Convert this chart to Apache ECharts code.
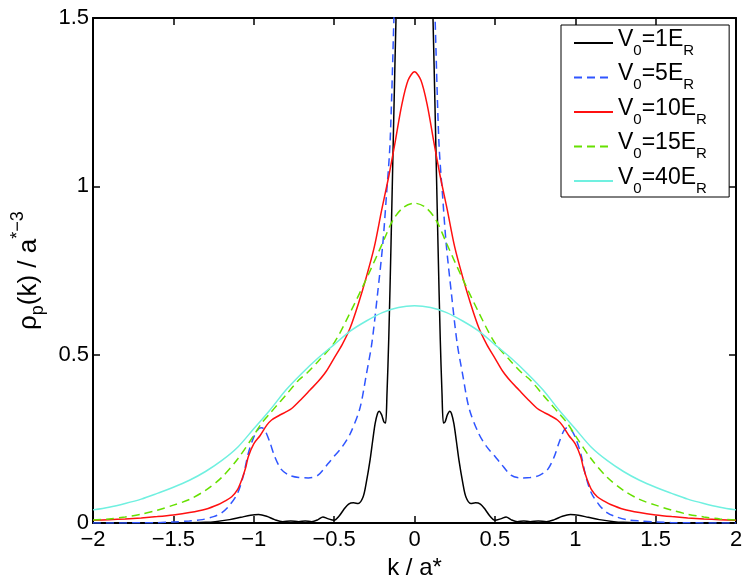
<!DOCTYPE html>
<html><head><meta charset="utf-8">
<script src="https://cdn.jsdelivr.net/npm/echarts@6/dist/echarts.min.js"></script>
<style>html,body{margin:0;padding:0;background:#fff}#c{width:747px;height:585px}</style>
</head><body><div id="c"></div>
<script>
const xTicks = [-2, -1.5, -1, -0.5, 0, 0.5, 1, 1.5, 2];
const xTickLabels = ['\u22122', '\u22121.5', '\u22121', '\u22120.5', '0', '0.5', '1', '1.5', '2'];
const yTicks = [0, 0.5, 1, 1.5];
const yTickLabels = ['0', '0.5', '1', '1.5'];

const seriesNames = ['V0=1ER', 'V0=5ER', 'V0=10ER', 'V0=15ER', 'V0=40ER'];
const legendNumbers = ['1', '5', '10', '15', '40'];

// V0 = 1 ER (black)
const blackK = [-2,-1.6,-1.4,-1.3,-1.24,-1.15,-1.08,-1.02,-0.97,-0.92,-0.87,-0.82,-0.77,-0.72,-0.68,-0.64,-0.6,-0.57,-0.54,-0.5,-0.47,-0.44,-0.41,-0.38,-0.35,-0.32,-0.3,-0.277,-0.26,-0.245,-0.23,-0.22,-0.205,-0.19,-0.18,-0.171,-0.16,-0.146,-0.128,-0.115,-0.09,-0.06,-0.03,0,
  0.03,0.06,0.09,0.115,0.128,0.146,0.16,0.171,0.18,0.19,0.205,0.22,0.23,0.245,0.26,0.277,0.3,0.32,0.35,0.38,0.41,0.44,0.47,0.5,0.54,0.57,0.6,0.64,0.68,0.72,0.77,0.82,0.87,0.92,0.97,1.02,1.08,1.15,1.24,1.3,1.4,1.6,2];
const blackV = [0,0,0.001,0.002,0.004,0.01,0.017,0.023,0.025,0.02,0.01,0.004,0.006,0.004,0.006,0.004,0.01,0.018,0.013,0.008,0.02,0.04,0.056,0.06,0.058,0.077,0.12,0.185,0.245,0.295,0.325,0.332,0.322,0.3,0.297,0.386,0.55,0.83,1.227,1.5,1.95,2.45,2.8,2.9,
  2.8,2.45,1.95,1.5,1.227,0.83,0.55,0.386,0.297,0.3,0.322,0.332,0.325,0.295,0.245,0.185,0.12,0.077,0.058,0.06,0.056,0.04,0.02,0.008,0.013,0.018,0.01,0.004,0.006,0.004,0.006,0.004,0.01,0.02,0.025,0.023,0.017,0.01,0.004,0.002,0.001,0,0];

// V0 = 5 ER (blue dashed)
const blueK = [-2,-1.7,-1.6,-1.5,-1.4,-1.32,-1.25,-1.2,-1.15,-1.1,-1.065,-1.035,-1.0,-0.97,-0.95,-0.93,-0.9,-0.87,-0.83,-0.78,-0.72,-0.66,-0.6,-0.54,-0.5,-0.45,-0.4,-0.34,-0.3,-0.265,-0.23,-0.197,-0.175,-0.152,-0.128,-0.1,-0.06,-0.03,0,
  0.03,0.06,0.1,0.128,0.152,0.175,0.197,0.23,0.265,0.3,0.34,0.4,0.45,0.5,0.54,0.6,0.66,0.72,0.78,0.83,0.87,0.9,0.93,0.95,0.97,1.0,1.035,1.065,1.1,1.15,1.2,1.25,1.32,1.4,1.5,1.6,1.7,2];
const blueV = [0,0.0005,0.001,0.003,0.006,0.01,0.019,0.03,0.053,0.089,0.14,0.205,0.255,0.28,0.283,0.275,0.24,0.198,0.16,0.142,0.135,0.134,0.142,0.175,0.198,0.226,0.265,0.34,0.44,0.535,0.68,0.83,0.97,1.13,1.5,1.95,2.4,2.6,2.7,
  2.6,2.4,1.95,1.5,1.13,0.97,0.83,0.68,0.535,0.44,0.34,0.265,0.226,0.198,0.175,0.142,0.134,0.135,0.142,0.16,0.198,0.24,0.275,0.283,0.28,0.255,0.205,0.14,0.089,0.053,0.03,0.019,0.01,0.006,0.003,0.001,0.0005,0];

// V0 = 10 ER (red)
const redK = [-2,-1.9,-1.8,-1.7,-1.6,-1.5,-1.4,-1.3,-1.22,-1.18,-1.137,-1.1,-1.075,-1.05,-1.034,-1.0,-0.96,-0.92,-0.889,-0.84,-0.8,-0.764,-0.7,-0.65,-0.6,-0.55,-0.5,-0.45,-0.4,-0.35,-0.3,-0.25,-0.204,-0.16,-0.121,-0.08,-0.04,0,
  0.04,0.08,0.121,0.16,0.204,0.25,0.3,0.35,0.4,0.45,0.5,0.55,0.6,0.65,0.7,0.764,0.8,0.84,0.889,0.92,0.96,1.0,1.034,1.05,1.075,1.1,1.137,1.18,1.22,1.3,1.4,1.5,1.6,1.7,1.8,1.9,2];
const redV = [0.008,0.01,0.012,0.015,0.019,0.024,0.031,0.041,0.055,0.065,0.078,0.1,0.128,0.165,0.197,0.235,0.26,0.29,0.306,0.32,0.33,0.34,0.37,0.395,0.42,0.45,0.49,0.53,0.58,0.65,0.73,0.82,0.93,1.03,1.13,1.24,1.315,1.34,
  1.315,1.24,1.13,1.03,0.93,0.82,0.73,0.65,0.58,0.53,0.49,0.45,0.42,0.395,0.37,0.34,0.33,0.32,0.306,0.29,0.26,0.235,0.197,0.165,0.128,0.1,0.078,0.065,0.055,0.041,0.031,0.024,0.019,0.015,0.012,0.01,0.008];

// V0 = 15 ER (green dashed)
const greenK = [-2,-1.9,-1.8,-1.7,-1.6,-1.5,-1.4,-1.3,-1.2,-1.1,-1.0,-0.95,-0.9,-0.85,-0.8,-0.72,-0.67,-0.6,-0.5,-0.4,-0.29,-0.2,-0.134,-0.07,0,
  0.07,0.134,0.2,0.29,0.4,0.5,0.6,0.67,0.72,0.8,0.85,0.9,0.95,1.0,1.1,1.2,1.3,1.4,1.5,1.6,1.7,1.8,1.9,2];
const greenV = [0.009,0.012,0.018,0.026,0.038,0.053,0.07,0.097,0.135,0.19,0.26,0.297,0.325,0.353,0.38,0.425,0.445,0.48,0.535,0.625,0.735,0.83,0.9,0.937,0.95,
  0.937,0.9,0.83,0.735,0.625,0.535,0.48,0.445,0.425,0.38,0.353,0.325,0.297,0.26,0.19,0.135,0.097,0.07,0.053,0.038,0.026,0.018,0.012,0.009];

// V0 = 40 ER (cyan)
const cyanK = [-2,-1.9,-1.8,-1.7,-1.6,-1.5,-1.4,-1.3,-1.2,-1.1,-1.0,-0.9,-0.8,-0.7,-0.6,-0.5,-0.4,-0.3,-0.2,-0.1,0,
  0.1,0.2,0.3,0.4,0.5,0.6,0.7,0.8,0.9,1.0,1.1,1.2,1.3,1.4,1.5,1.6,1.7,1.8,1.9,2];
const cyanV = [0.039,0.047,0.058,0.071,0.088,0.106,0.127,0.153,0.185,0.225,0.28,0.335,0.395,0.445,0.49,0.53,0.57,0.6,0.625,0.64,0.645,
  0.64,0.625,0.6,0.57,0.53,0.49,0.445,0.395,0.335,0.28,0.225,0.185,0.153,0.127,0.106,0.088,0.071,0.058,0.047,0.039];

const FONT = 'Liberation Sans, Arial, Helvetica, sans-serif';
function zip(ks, vs) { return ks.map((k, i) => [k, vs[i]]); }
function tickLabel(ticks, labels) {
  return v => { const i = ticks.findIndex(t => Math.abs(t - v) < 1e-9); return i >= 0 ? labels[i] : ''; };
}

const chart = echarts.init(document.getElementById('c'), null, {renderer: 'canvas'});
const lineAxis = {show: true, onZero: false, lineStyle: {color: '#000', width: 2}};
const tick = {show: true, inside: true, length: 7, lineStyle: {color: '#000', width: 1.5}};

function mkSeries(name, ks, vs, color, dashed) {
  return {
    name: name, type: 'line', data: zip(ks, vs), showSymbol: false, symbol: 'none',
    smooth: 0.3, clip: true,
    lineStyle: {color: color, width: 1.5, type: dashed ? [8, 5] : 'solid'},
    itemStyle: {color: color}
  };
}

chart.setOption({
  animation: false,
  backgroundColor: '#fff',
  grid: {left: 93, right: 11, top: 18, bottom: 62, containLabel: false},
  xAxis: [
    {type: 'value', position: 'bottom', min: -2, max: 2, interval: 0.5,
     axisLine: lineAxis, axisTick: tick, splitLine: {show: false},
     axisLabel: {fontSize: 22, color: '#000', margin: 6, fontFamily: FONT, formatter: tickLabel(xTicks, xTickLabels)},
     name: 'k / a*', nameLocation: 'middle', nameGap: 26,
     nameTextStyle: {fontSize: 24, color: '#000', fontFamily: FONT}},
    {type: 'value', position: 'top', min: -2, max: 2, interval: 0.5,
     axisLine: lineAxis, axisTick: tick, splitLine: {show: false}, axisLabel: {show: false}}
  ],
  yAxis: [
    {type: 'value', position: 'left', min: 0, max: 1.5, interval: 0.5,
     axisLine: lineAxis, axisTick: tick, splitLine: {show: false},
     axisLabel: {fontSize: 22, color: '#000', margin: 4, fontFamily: FONT, formatter: tickLabel(yTicks, yTickLabels)},
     name: '{m|\u03c1}{sb|p}{m|(k) / a}{sp|*\u22123}{h| }', nameLocation: 'middle', nameGap: 44,
     nameTextStyle: {fontSize: 26, color: '#000', fontFamily: FONT,
       rich: {
         m: {fontSize: 26, lineHeight: 26, fontFamily: FONT, color: '#000'},
         sb: {fontSize: 18, lineHeight: 18, verticalAlign: 'bottom', fontFamily: FONT, color: '#000'},
         sp: {fontSize: 18, lineHeight: 20, verticalAlign: 'top', fontFamily: FONT, color: '#000'},
         h: {fontSize: 1, lineHeight: 38}
       }}},
    {type: 'value', position: 'right', min: 0, max: 1.5, interval: 0.5,
     axisLine: lineAxis, axisTick: tick, splitLine: {show: false}, axisLabel: {show: false}}
  ],
  legend: {
    orient: 'vertical', left: 561, top: 25, padding: [3, 22, 1, 12], itemGap: 4.5,
    itemWidth: 39, itemHeight: 14, itemTextGap: 19,
    backgroundColor: '#fff', borderColor: '#000', borderWidth: 1, borderRadius: 0,
    itemStyle: {opacity: 0},
    data: seriesNames,
    formatter: name => {
      const n = legendNumbers[seriesNames.indexOf(name)];
      return '{m|V}{s|0}{m|=' + n + 'E}{s|R}{h| }';
    },
    textStyle: {color: '#000', fontFamily: FONT, fontSize: 23,
      rich: {
        m: {fontSize: 23, lineHeight: 18, verticalAlign: 'top', fontFamily: FONT, color: '#000'},
        s: {fontSize: 15, lineHeight: 16, verticalAlign: 'bottom', fontFamily: FONT, color: '#000'},
        h: {fontSize: 1, lineHeight: 30}
      }}
  },
  series: [
    mkSeries(seriesNames[0], blackK, blackV, '#000000', false),
    mkSeries(seriesNames[1], blueK, blueV, '#2f55ff', true),
    mkSeries(seriesNames[2], redK, redV, '#ff1010', false),
    mkSeries(seriesNames[3], greenK, greenV, '#66e000', true),
    mkSeries(seriesNames[4], cyanK, cyanV, '#70f0e0', false)
  ]
});
</script></body></html>
